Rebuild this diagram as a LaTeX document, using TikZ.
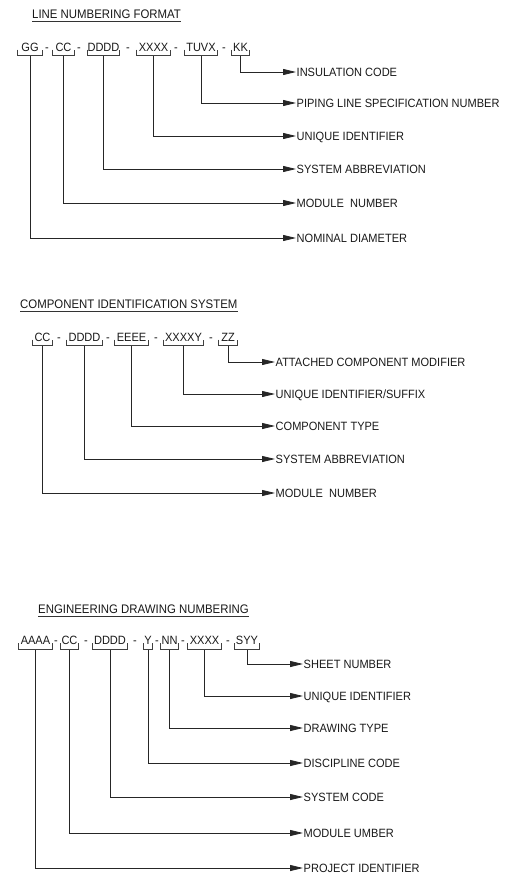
\documentclass[tikz,border=0pt]{standalone}
\usepackage{fontspec}
\setmainfont{Liberation Sans}[FakeStretch=0.92]
\usetikzlibrary{arrows.meta}

\begin{document}
\begin{tikzpicture}[
			x=1pt, y=-1pt,
			font=\fontsize{12}{14}\selectfont,
			title/.style={anchor=base west, inner sep=0pt, font=\fontsize{12.4}{14}\selectfont, text=black!90},
			seg/.style={anchor=base, inner sep=0pt, text height=8.6pt, text depth=4.5pt, text=black!90},
			lbl/.style={anchor=west, inner xsep=0.5pt, inner ysep=0pt, text height=8.6pt, text depth=0pt, text=black!90},
			brkt/.style={draw=black!75, line width=0.7pt},
			uline/.style={draw=black!80, line width=0.6pt},
			arrow/.style={-{Triangle[length=13pt,width=6pt]}, draw=black!85, line width=0.8pt}
			]
			
			\useasboundingbox (0,0) rectangle (523,878);
			
			% --- Line numbering format ---
			\node[title] (ln-title) at (32,18) {LINE NUMBERING FORMAT};
			\draw[uline] ([yshift=-3pt]ln-title.base west) -- ([yshift=-3pt]ln-title.base east);
			
			\node[seg, minimum width=24pt] (ln-gg) at (30,51) {GG};
			\node[seg] (ln-d1) at (47,51) {-};
			\node[seg, minimum width=21pt] (ln-cc) at (63.5,51) {CC};
			\node[seg] (ln-d2) at (79,51) {-};
			\node[seg, minimum width=32pt] (ln-dddd) at (103.5,51) {DDDD};
			\node[seg] (ln-d3) at (128,51) {-};
			\node[seg, minimum width=33pt] (ln-xxxx) at (153.5,51) {XXXX};
			\node[seg] (ln-d4) at (176,51) {-};
			\node[seg, minimum width=32pt] (ln-tuvx) at (201,51) {TUVX};
			\node[seg] (ln-d5) at (224,51) {-};
			\node[seg, minimum width=17pt] (ln-kk) at (240.5,51) {KK};
			
			\node[lbl] (ln-insul) at (296,72) {INSULATION CODE};
			\node[lbl] (ln-pipe) at (296,103) {PIPING LINE SPECIFICATION NUMBER};
			\node[lbl] (ln-uid) at (296,136) {UNIQUE IDENTIFIER};
			\node[lbl] (ln-sys) at (296,169) {SYSTEM ABBREVIATION};
			\node[lbl] (ln-mod) at (296,203) {MODULE\ \ NUMBER};
			\node[lbl] (ln-dia) at (296,238) {NOMINAL DIAMETER};
			
			\draw[arrow] (ln-kk.south) |- (ln-insul.west);
			\draw[arrow] (ln-tuvx.south) |- (ln-pipe.west);
			\draw[arrow] (ln-xxxx.south) |- (ln-uid.west);
			\draw[arrow] (ln-dddd.south) |- (ln-sys.west);
			\draw[arrow] (ln-cc.south) |- (ln-mod.west);
			\draw[arrow] (ln-gg.south) |- (ln-dia.west);
			
			% --- Component identification system ---
			\node[title] (ci-title) at (20,308) {COMPONENT IDENTIFICATION SYSTEM};
			\draw[uline] ([yshift=-3pt]ci-title.base west) -- ([yshift=-3pt]ci-title.base east);
			
			\node[seg, minimum width=19pt] (ci-cc) at (42.5,341) {CC};
			\node[seg] (ci-d1) at (59,341) {-};
			\node[seg, minimum width=35pt] (ci-dddd) at (84.5,341) {DDDD};
			\node[seg] (ci-d2) at (108,341) {-};
			\node[seg, minimum width=33pt] (ci-eeee) at (131.5,341) {EEEE};
			\node[seg] (ci-d3) at (156,341) {-};
			\node[seg, minimum width=39pt] (ci-xxxxy) at (183.5,341) {XXXXY};
			\node[seg] (ci-d4) at (211,341) {-};
			\node[seg, minimum width=18pt] (ci-zz) at (228,341) {ZZ};
			
			\node[lbl] (ci-att) at (275,362) {ATTACHED COMPONENT MODIFIER};
			\node[lbl] (ci-uid) at (275,394) {UNIQUE IDENTIFIER/SUFFIX};
			\node[lbl] (ci-type) at (275,426) {COMPONENT TYPE};
			\node[lbl] (ci-sys) at (275,459) {SYSTEM ABBREVIATION};
			\node[lbl] (ci-mod) at (275,493) {MODULE\ \ NUMBER};
			
			\draw[arrow] (ci-zz.south) |- (ci-att.west);
			\draw[arrow] (ci-xxxxy.south) |- (ci-uid.west);
			\draw[arrow] (ci-eeee.south) |- (ci-type.west);
			\draw[arrow] (ci-dddd.south) |- (ci-sys.west);
			\draw[arrow] (ci-cc.south) |- (ci-mod.west);
			
			% --- Engineering drawing numbering ---
			\node[title] (ed-title) at (38,613) {ENGINEERING DRAWING NUMBERING};
			\draw[uline] ([yshift=-3pt]ed-title.base west) -- ([yshift=-3pt]ed-title.base east);
			
			\node[seg, minimum width=33pt] (ed-aaaa) at (35.5,644.5) {AAAA};
			\node[seg] (ed-d1) at (56,644.5) {-};
			\node[seg, minimum width=17pt] (ed-cc) at (69.5,644.5) {CC};
			\node[seg] (ed-d2) at (86,644.5) {-};
			\node[seg, minimum width=34pt] (ed-dddd) at (110,644.5) {DDDD};
			\node[seg] (ed-d3) at (135,644.5) {-};
			\node[seg, minimum width=8pt] (ed-y) at (148,644.5) {Y};
			\node[seg] (ed-d4) at (157,644.5) {-};
			\node[seg, minimum width=17pt] (ed-nn) at (169.5,644.5) {NN};
			\node[seg] (ed-d5) at (183,644.5) {-};
			\node[seg, minimum width=33pt] (ed-xxxx) at (204.5,644.5) {XXXX};
			\node[seg] (ed-d6) at (228,644.5) {-};
			\node[seg, minimum width=24pt] (ed-syy) at (247,644.5) {SYY};
			
			\node[lbl] (ed-sheet) at (303,664) {SHEET NUMBER};
			\node[lbl] (ed-uid) at (303,696) {UNIQUE IDENTIFIER};
			\node[lbl] (ed-type) at (303,728) {DRAWING TYPE};
			\node[lbl] (ed-disc) at (303,763) {DISCIPLINE CODE};
			\node[lbl] (ed-sys) at (303,797) {SYSTEM CODE};
			\node[lbl] (ed-mod) at (303,833) {MODULE UMBER};
			\node[lbl] (ed-proj) at (303,868) {PROJECT IDENTIFIER};
			
			\draw[arrow] (ed-syy.south) |- (ed-sheet.west);
			\draw[arrow] (ed-xxxx.south) |- (ed-uid.west);
			\draw[arrow] (ed-nn.south) |- (ed-type.west);
			\draw[arrow] (ed-y.south) |- (ed-disc.west);
			\draw[arrow] (ed-dddd.south) |- (ed-sys.west);
			\draw[arrow] (ed-cc.south) |- (ed-mod.west);
			\draw[arrow] (ed-aaaa.south) |- (ed-proj.west);
			
			% --- Brackets under the code groups ---
			\foreach \n in {ln-gg,ln-cc,ln-dddd,ln-xxxx,ln-tuvx,ln-kk,
				ci-cc,ci-dddd,ci-eeee,ci-xxxxy,ci-zz,
				ed-aaaa,ed-cc,ed-dddd,ed-y,ed-nn,ed-xxxx,ed-syy}
				\draw[brkt] ([yshift=6pt]\n.south west) -- (\n.south west) -- (\n.south east) -- ([yshift=6pt]\n.south east);
			
	\end{tikzpicture}
\end{document}
